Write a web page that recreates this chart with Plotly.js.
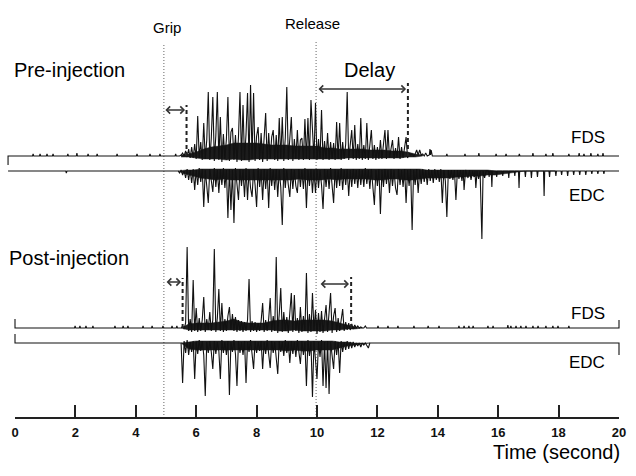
<!DOCTYPE html>
<html><head><meta charset="utf-8">
<script src="https://cdn.plot.ly/plotly-3.0.1.min.js"></script>
<style>html,body{margin:0;padding:0;background:#fff}#chart{width:636px;height:476px}</style>
</head><body><div id="chart"></div>
<script>
// ================= DATA =================
const tickValues = [0, 2, 4, 6, 8, 10, 12, 14, 16, 18, 20];
const tickLabels = ['0', '2', '4', '6', '8', '10', '12', '14', '16', '18', '20'];
const eventNames = ['Grip', 'Release'];
const eventTimes = [4.93, 9.97];
// onset / end-of-activity markers (s): pre onset, pre end, post onset, post end
const markTimes = [5.68, 13.01, 5.55, 11.13];
const sampleStep = 0.05;   // spike samples
const bandStep = 0.25;     // dense-activity core envelope samples

// ---- Pre-injection FDS ----
const preFdsLead = [[-0.23,-9],[-0.23,0],[0.58,0],[0.6,2],[0.62,0],[0.81,0],[0.83,2],[0.85,0],[1.04,0],[1.06,2],[1.08,0],[1.24,0],[1.26,2],[1.28,0],[1.73,0],[1.75,2],[1.77,0],[2.03,0],[2.05,3],[2.07,0],[2.4,0],[2.42,2],[2.44,0],[2.7,0],[2.72,2],[2.74,0],[3.36,0],[3.38,2],[3.4,0],[4.02,0],[4.04,2],[4.06,0],[4.45,0],[4.47,2],[4.49,0],[4.78,0],[4.8,2],[4.82,0],[5.3,0],[5.32,2],[5.34,0],[5.45,0]];
const preFdsStart = 5.5;
const preFdsBurst = [
  1,3,0,5,-1,7,-2,9,-2,12,-3,40,-2,14,-4,33,-3,16,64,-4,
  18,59,-5,20,64,-4,39,-6,22,-3,17,59,-5,24,28,-4,21,-6,19,64,
  -5,51,-4,22,63,-6,71,-3,63,-5,20,29,-4,23,-6,18,43,-5,23,-3,
  19,26,-4,21,-5,38,-3,39,-5,18,69,-4,20,39,-5,17,-3,26,-4,16,
  18,-4,37,-3,38,-4,56,20,-3,53,-4,17,-3,46,-4,15,-3,23,-4,14,
  -3,13,-4,34,-3,33,-4,14,-3,12,64,-4,13,26,-3,31,-4,12,-3,38,
  -4,11,-3,33,-4,10,26,-3,11,-4,9,-3,16,-3,10,26,-3,26,-2,9,
  16,-3,8,-2,19,-3,9,-2,8,19,-2,3,1,2,0,2,6,1,6,1,
  2];
const preFdsTail = [[13.55,0],[13.6,3],[13.65,0],[13.72,1],[13.74,7],[13.76,1],[13.78,6],[13.82,0],[14.28,0],[14.3,2],[14.32,0],[14.88,0],[14.9,2],[14.92,0],[15.34,0],[15.36,3],[15.38,0],[15.91,0],[15.93,2],[15.95,0],[16.24,0],[16.26,2],[16.28,0],[16.68,0],[16.7,2],[16.72,0],[17.13,0],[17.15,3],[17.17,0],[17.56,0],[17.58,2],[17.6,0],[17.79,0],[17.81,3],[17.83,0],[18.32,0],[18.34,2],[18.36,0],[18.66,0],[18.68,3],[18.7,0],[18.82,0],[18.84,2],[18.86,0],[19.05,0],[19.07,3],[19.09,0],[19.28,0],[19.3,2],[19.32,0],[19.45,0],[19.47,3],[19.49,0],[20.0,0]];
const preFdsBandStart = 5.5;
const preFdsBandHigh = [1,2,4,7,9,10,11,13,13,13,13,12,11,11,11,10,10,10,10,8,8,7,7,7,7,6,6,6,5,5,4,2,1];
const preFdsBandLow  = [-1,-1,-2,-3,-3,-3,-4,-3,-4,-4,-3,-3,-3,-3,-3,-3,-3,-3,-3,-3,-3,-3,-2,-2,-2,-2,-2,-2,-2,-2,-1,-1,0];

// ---- Pre-injection EDC ----
const preEdcLead = [[-0.23,0],[1.68,0],[1.7,-2],[1.72,0],[5.35,0]];
const preEdcStart = 5.4;
const preEdcBurst = [
  0,-2,1,-4,0,-7,2,-9,1,-12,2,-19,1,-14,3,-11,2,-36,1,-15,
  -32,2,-13,-21,3,-16,1,-22,2,-14,3,-17,1,-47,2,-39,1,-52,3,-16,
  -29,2,-15,1,-26,3,-29,1,-17,-26,2,-14,-36,3,-16,1,-29,2,-18,1,
  -37,3,-15,1,-19,2,-26,1,-16,-54,3,-17,1,-14,-26,2,-18,1,-15,-22,
  2,-16,1,-18,3,-37,1,-15,2,-22,1,-22,2,-17,1,-14,-38,2,-16,1,
  -18,3,-14,-32,2,-17,1,-15,3,-19,1,-14,2,-25,1,-16,2,-13,1,-17,
  2,-14,1,-16,3,-13,1,-18,2,-14,-34,1,-15,2,-43,1,-16,2,-13,1,
  -22,2,-15,1,-17,-24,2,-14,1,-16,2,-32,1,-15,2,-59,1,-14,2,-22,
  1,-13,2,-11,1,-14,2,-10,1,-12,2,-9,1,-11,2,-32,1,-10,-46,1,
  -8];
const preEdcTail = [[14.45,1],[14.5,-9],[14.55,1],[14.6,-29],[14.65,1],[14.7,-8],[14.75,1],[14.8,-10],[14.84,1],[14.87,-19],[14.92,1],[15.0,-7],[15.05,1],[15.1,-9],[15.15,0],[15.2,-6],[15.23,0],[15.26,-17],[15.3,0],[15.35,-8],[15.4,0],[15.46,-68],[15.5,0],[15.55,-7],[15.6,0],[15.68,0],[15.7,-6],[15.72,0],[15.77,0],[15.79,-16],[15.81,0],[15.93,0],[15.95,-6],[15.97,0],[16.13,0],[16.15,-5],[16.17,0],[16.33,0],[16.35,-7],[16.37,0],[16.53,0],[16.55,-5],[16.57,0],[16.67,0],[16.69,-17],[16.71,0],[16.88,0],[16.9,-6],[16.92,0],[17.08,0],[17.1,-7],[17.12,0],[17.28,0],[17.3,-6],[17.32,0],[17.5,0],[17.52,-25],[17.54,0],[17.68,0],[17.7,-6],[17.72,0],[17.89,0],[17.91,-5],[17.93,0],[18.08,0],[18.1,-4],[18.12,0],[18.28,0],[18.3,-5],[18.32,0],[18.48,0],[18.5,-4],[18.52,0],[18.68,0],[18.7,-4],[18.72,0],[18.88,0],[18.9,-4],[18.92,0],[19.08,0],[19.1,-3],[19.12,0],[19.28,0],[19.3,-3],[19.32,0],[19.48,0],[19.5,-3],[19.52,0],[20.0,0]];
const preEdcBandStart = 5.4;
const preEdcBandHigh = [0,1,1,2,2,2,2,2,2,2, 2,2,2,2,2,2,2,2,2,2, 2,2,2,2,2,2,2,2,2,2, 2,2,2,1,1,1,1,1,1,1, 1,1,0,0,0,0,0,0,0,0, 0];
const preEdcBandLow  = [0,-3,-5,-7,-8,-9,-8,-9,-9,-9, -9,-9,-9,-9,-9,-9,-8,-9,-9,-9, -8,-9,-8,-8,-8,-8,-9,-9,-8,-8, -9,-9,-8,-7,-7,-7,-7,-6,-6,-5, -5,-4,-4,-3,-2,-1,0,0,0,0, 0];

// ---- Post-injection FDS ----
const postFdsLead = [[0,9],[0,0],[1.97,0],[1.99,2],[2.01,0],[2.13,0],[2.15,2],[2.17,0],[2.33,0],[2.35,2],[2.37,0],[2.56,0],[2.58,2],[2.6,0],[3.29,0],[3.31,2],[3.33,0],[3.56,0],[3.58,2],[3.6,0],[3.72,0],[3.74,2],[3.76,0],[4.22,0],[4.24,2],[4.26,0],[4.52,0],[4.54,2],[4.56,0],[4.88,0],[4.9,2],[4.92,0],[5.18,0],[5.2,2],[5.22,0],[5.34,0],[5.36,2],[5.38,0],[5.45,0]];
const postFdsStart = 5.5;
const postFdsBurst = [
  0,2,-1,5,81,-3,9,-4,48,-3,20,-4,10,-3,8,31,-4,9,-2,16,
  -3,8,79,-4,10,39,-3,25,-4,9,-3,12,21,-2,14,-3,11,-4,8,-3,
  7,-4,6,-3,8,49,-4,7,-3,6,-4,5,-3,7,25,-4,8,-3,9,30,
  -4,12,-3,71,-5,14,40,-4,16,-3,11,-5,13,35,-4,33,-3,10,-5,21,
  -4,12,-3,55,-5,14,-4,35,-3,18,-6,15,-4,17,-5,12,23,-4,16,35,
  -5,12,20,-4,10,-3,8,19,-3,6,-2,5,-2,4,-1,3,0,2,0,1,
  0];
const postFdsTail = [[11.55,0],[11.6,2],[11.64,0],[12.0,0],[12.02,2],[12.04,0],[12.33,0],[12.35,2],[12.37,0],[12.66,0],[12.68,2],[12.7,0],[13.19,0],[13.21,2],[13.23,0],[13.66,0],[13.68,2],[13.7,0],[14.02,0],[14.04,2],[14.06,0],[14.68,0],[14.7,2],[14.72,0],[14.85,0],[14.87,2],[14.89,0],[15.01,0],[15.03,2],[15.05,0],[15.15,0],[15.17,2],[15.19,0],[15.64,0],[15.66,2],[15.68,0],[15.81,0],[15.83,2],[15.85,0],[16.3,0],[16.32,3],[16.34,0],[16.4,0],[16.42,2],[16.44,0],[16.57,0],[16.59,2],[16.61,0],[16.73,0],[16.75,2],[16.77,0],[16.9,0],[16.92,2],[16.94,0],[17.13,0],[17.15,2],[17.17,0],[17.3,0],[17.32,2],[17.34,0],[17.56,0],[17.58,2],[17.6,0],[17.79,0],[17.81,2],[17.83,0],[17.96,0],[17.98,2],[18.0,0],[18.32,0],[18.34,2],[18.36,0],[20.0,0],[20.0,8]];
const postFdsBandStart = 5.5;
const postFdsBandHigh = [0,4,5,5,5,6,7,9,6,5,5,5,7,8,8,7,8,8,8,8,7,5,3,1,0];
const postFdsBandLow  = [0,-2,-2,-2,-2,-2,-2,-2,-2,-2,-2,-2,-2,-3,-3,-2,-3,-3,-3,-3,-2,-2,-1,-1,0];

// ---- Post-injection EDC ----
const postEdcLead = [[0,9],[0,0],[5.45,0]];
const postEdcStart = 5.5;
const postEdcBurst = [
  0,-40,2,-10,3,-12,1,-9,2,-36,1,-11,3,-8,2,-12,-53,1,-10,2,
  -9,-26,2,-11,1,-8,-36,3,-10,1,-12,2,-52,1,-9,3,-11,-43,2,-10,
  1,-12,2,-40,1,-9,3,-11,-26,2,-10,1,-8,2,-26,1,-11,3,-9,-25,
  2,-10,1,-12,-31,2,-9,1,-13,3,-10,1,-20,2,-11,1,-14,3,-10,-21,
  2,-12,1,-43,3,-13,1,-54,2,-15,-36,1,-14,3,-43,1,-45,2,-51,1,
  -14,-26,2,-12,1,-30,2,-9,1,-7,2,-6,1,-5,1,-4,0,-3,0,-4,
  0,-2,0,-3,-5,0,0];
const postEdcTail = [[11.9,0],[20.0,0],[20.0,-12]];
const postEdcBandStart = 5.5;
const postEdcBandHigh = [0,1,2,2,2,2,2,2,2,2,2,2,2,2,2,2,2,2,2,2,2,1,1,0,0,0];
const postEdcBandLow  = [0,-6,-7,-7,-7,-7,-7,-7,-7,-7,-7,-7,-7,-7,-8,-7,-8,-8,-7,-7,-7,-5,-3,-2,-1,0];

// ================= BUILD =================
function assemble(lead, start, burst, tail) {
  const x = [], y = [];
  lead.forEach(p => { x.push(p[0]); y.push(p[1]); });
  burst.forEach((v, i) => { x.push(+(start + i * sampleStep).toFixed(3)); y.push(v); });
  tail.forEach(p => { x.push(p[0]); y.push(p[1]); });
  return { x, y };
}
function bandPolygon(start, high, low) {
  const x = [], y = [];
  high.forEach((v, i) => { x.push(+(start + i * bandStep).toFixed(3)); y.push(v); });
  for (let i = low.length - 1; i >= 0; i--) { x.push(+(start + i * bandStep).toFixed(3)); y.push(low[i]); }
  return { x, y };
}
const FONT = 'Arial, "Liberation Sans", Helvetica, sans-serif';
const W = 636, H = 476;
const INK = '#111';
const emgLine = { color: INK, width: 1.1 };

const sets = [
  [assemble(preFdsLead, preFdsStart, preFdsBurst, preFdsTail), bandPolygon(preFdsBandStart, preFdsBandHigh, preFdsBandLow), 'y2'],
  [assemble(preEdcLead, preEdcStart, preEdcBurst, preEdcTail), bandPolygon(preEdcBandStart, preEdcBandHigh, preEdcBandLow), 'y3'],
  [assemble(postFdsLead, postFdsStart, postFdsBurst, postFdsTail), bandPolygon(postFdsBandStart, postFdsBandHigh, postFdsBandLow), 'y4'],
  [assemble(postEdcLead, postEdcStart, postEdcBurst, postEdcTail), bandPolygon(postEdcBandStart, postEdcBandHigh, postEdcBandLow), 'y5']
];
const traces = [];
const eventTop = [372, 377];
eventTimes.forEach((t, i) => traces.push({
  x: [t, t], y: [2, eventTop[i]], xaxis: 'x', yaxis: 'y', mode: 'lines',
  line: { color: '#666', width: 1, dash: '1px,2px' }, hoverinfo: 'skip', showlegend: false
}));
sets.forEach(s => {
  traces.push({
    x: s[1].x, y: s[1].y, xaxis: 'x2', yaxis: s[2], mode: 'lines', fill: 'toself',
    fillcolor: '#1c1c1c', line: { color: '#1c1c1c', width: 0.5 }, hoverinfo: 'skip', showlegend: false
  });
  traces.push({
    x: s[0].x, y: s[0].y, xaxis: 'x2', yaxis: s[2], mode: 'lines',
    line: emgLine, hoverinfo: 'skip', showlegend: false
  });
});
const markAxes = ['y2', 'y2', 'y4', 'y4'];
const markTops = [51, 73, 50, 51];
markTimes.forEach((t, i) => traces.push({
  x: [t, t], y: [0, markTops[i]], xaxis: 'x2', yaxis: markAxes[i], mode: 'lines',
  line: { color: '#222', width: 2, dash: '4px,3px' }, hoverinfo: 'skip', showlegend: false
}));

function arrow(x0, x1, yv, yref) {
  return { xref: 'x2', yref: yref, axref: 'x2', ayref: yref, x: x1, y: yv, ax: x0, ay: yv,
    text: '', showarrow: true, arrowside: 'end+start', arrowhead: 4, startarrowhead: 4,
    arrowsize: 1, startarrowsize: 1, arrowwidth: 1.4, arrowcolor: '#333', standoff: 0, startstandoff: 0 };
}
function label(text, px, py, size, anchor) {
  return { xref: 'paper', yref: 'paper', x: px / W, y: 1 - py / H, text: text, showarrow: false,
    xanchor: anchor || 'center', yanchor: 'middle', font: { family: FONT, size: size, color: '#000' } };
}
const annotations = [
  arrow(eventTimes[0], markTimes[0] - 0.05, 46, 'y2'),
  arrow(eventTimes[1] + 0.03, markTimes[1] - 0.06, 67, 'y2'),
  arrow(eventTimes[0] + 0.04, markTimes[2] - 0.05, 46, 'y4'),
  arrow(eventTimes[1] + 0.1, markTimes[3] - 0.07, 44, 'y4'),
  label(eventNames[0], 167, 27, 15),
  label(eventNames[1], 312, 23, 15),
  label('Pre-injection', 12, 70, 20, 'left'),
  label('Delay', 369, 70, 20),
  label('Post-injection', 7, 258, 20, 'left'),
  label('FDS', 607, 137, 17, 'right'),
  label('EDC', 607, 195, 17, 'right'),
  label('FDS', 607, 313, 17, 'right'),
  label('EDC', 607, 362, 17, 'right'),
  label('Time (second)', 622, 452, 20, 'right')
];

const hide = { visible: false, fixedrange: true, showgrid: false, zeroline: false };
const layout = {
  width: W, height: H,
  margin: { l: 0, r: 0, t: 0, b: 0, pad: 0 },
  paper_bgcolor: '#fff', plot_bgcolor: 'rgba(0,0,0,0)',
  showlegend: false, hovermode: false,
  xaxis: {
    domain: [15 / W, 619 / W], range: [0, 20], anchor: 'y',
    tickmode: 'array', tickvals: tickValues, ticktext: tickLabels,
    ticks: 'inside', ticklen: 12, tickwidth: 2, tickcolor: '#222',
    showline: true, linecolor: '#222', linewidth: 1.6, mirror: false,
    showgrid: false, zeroline: false, fixedrange: true, ticklabelstandoff: 3,
    tickfont: { family: FONT, size: 13, color: '#111', weight: 'bold' }
  },
  yaxis: Object.assign({ domain: [59 / H, 1], range: [0, 417], anchor: 'x' }, hide),
  xaxis2: Object.assign({ domain: [0, 1], range: [-15 / 30.2, 621 / 30.2], anchor: 'y2' }, hide),
  yaxis2: Object.assign({ domain: [0, 1], range: [156 - H, 156], anchor: 'x2' }, hide),
  yaxis3: Object.assign({ overlaying: 'y2', range: [171 - H, 171], anchor: 'x2' }, hide),
  yaxis4: Object.assign({ overlaying: 'y2', range: [328 - H, 328], anchor: 'x2' }, hide),
  yaxis5: Object.assign({ overlaying: 'y2', range: [343 - H, 343], anchor: 'x2' }, hide),
  annotations: annotations
};
Plotly.newPlot('chart', traces, layout, { staticPlot: true, displayModeBar: false });
</script>
</body></html>
